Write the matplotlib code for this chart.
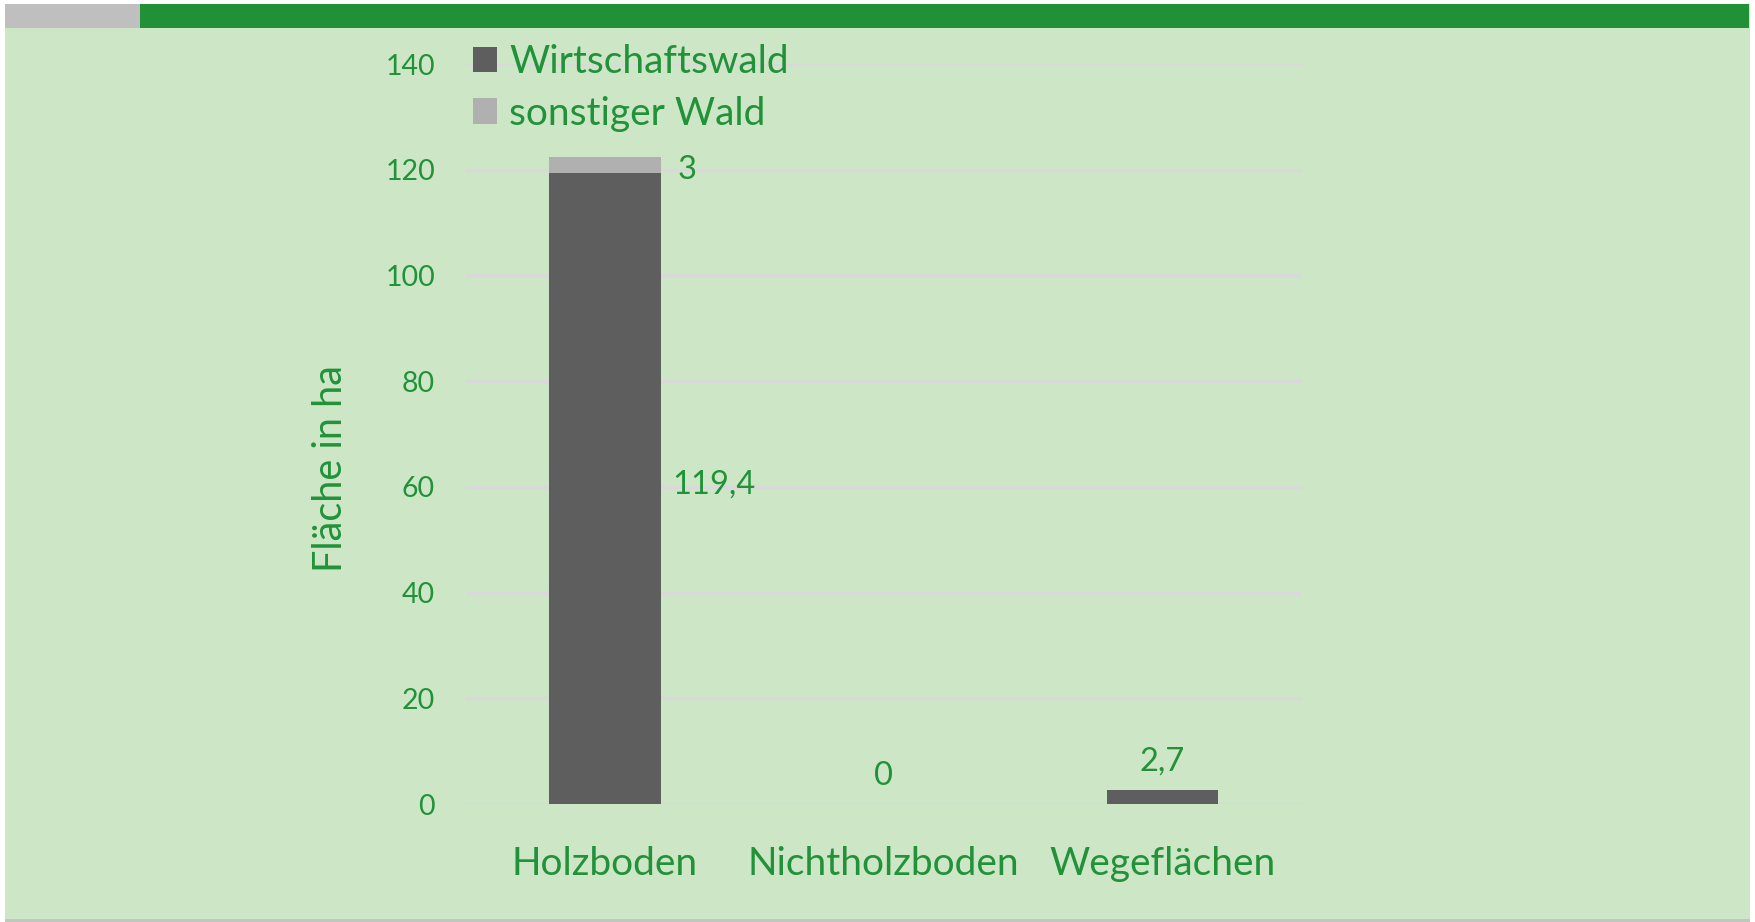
import matplotlib
matplotlib.use("Agg")
import matplotlib.pyplot as plt
from matplotlib.patches import Rectangle, Patch

categories = ["Holzboden", "Nichtholzboden", "Wegeflächen"]
wirtschaftswald = [119.4, 0.0, 2.7]
sonstiger_wald = [3.0, 0.0, 0.0]
series_names = ["Wirtschaftswald", "sonstiger Wald"]
yticks = [0, 20, 40, 60, 80, 100, 120, 140]
ylabel = "Fläche in ha"

GREEN = "#21923a"
BG = "#cde7c6"
DARK = "#5e5e5e"
LIGHT = "#b0b0b0"

plt.rcParams['font.family'] = ['Lato', 'DejaVu Sans']

fig = plt.figure(figsize=(17.55, 9.22), dpi=100)
fig.patch.set_facecolor("white")

# background panel
fig.patches.append(Rectangle((5/1755, 2/922), (1750-5)/1755, (918-2)/922,
                             transform=fig.transFigure, facecolor=BG,
                             edgecolor="none", zorder=-10))
# bottom border line
fig.patches.append(Rectangle((5/1755, 0), (1750-5)/1755, 3/922,
                             transform=fig.transFigure, facecolor="#c4c4c4",
                             edgecolor="none", zorder=-10))
# top bar: gray part and green part
fig.patches.append(Rectangle((5/1755, (922-28)/922), (140-5)/1755, 24/922,
                             transform=fig.transFigure, facecolor="#bfbfbf",
                             edgecolor="none", zorder=-9))
fig.patches.append(Rectangle((140/1755, (922-28)/922), (1749-140)/1755, 24/922,
                             transform=fig.transFigure, facecolor="#219138",
                             edgecolor="none", zorder=-9))

ax = fig.add_axes([465.6/1755, 118/922, (1302-465.6)/1755, 740/922])
ax.set_zorder(2)
ax.set_facecolor("none")

x = list(range(len(categories)))
ax.bar(x, wirtschaftswald, width=0.4, color=DARK, edgecolor="none",
       zorder=3, label=series_names[0])
ax.bar(x, sonstiger_wald, width=0.4, bottom=wirtschaftswald, color=LIGHT,
       edgecolor="none", zorder=3, label=series_names[1])

ax.set_xlim(-0.5, 2.5)
ax.set_ylim(0, 140)
ax.set_yticks(yticks)
ax.set_yticklabels([str(v) for v in yticks])
ax.yaxis.grid(True, color="#d9d9d9", linewidth=2.5, zorder=0)
ax.set_axisbelow(True)
for s in ax.spines.values():
    s.set_visible(False)
ax.tick_params(axis="both", length=0, colors=GREEN)
ax.tick_params(axis="y", labelsize=20.5, pad=22)
ax.set_xticks(x)
ax.set_xticklabels(categories, fontsize=28)
ax.tick_params(axis="x", pad=30)
ax.set_ylabel(ylabel, color=GREEN, fontsize=28.5)
ax.yaxis.set_label_coords(-0.14, 0.453)

def fmt(v):
    s = ("%.1f" % v).replace(".", ",")
    if s.endswith(",0"):
        s = s[:-2]
    return s

# data labels
ax.annotate(fmt(wirtschaftswald[0]), (0.2, wirtschaftswald[0] / 2),
            xytext=(12, 4), textcoords="offset pixels", ha="left", va="center",
            color=GREEN, fontsize=23.5)
ax.annotate(fmt(sonstiger_wald[0]), (0.2, wirtschaftswald[0] + sonstiger_wald[0] / 2),
            xytext=(17, -5), textcoords="offset pixels", ha="left", va="center",
            color=GREEN, fontsize=23.5)
for i in (1, 2):
    ax.annotate(fmt(wirtschaftswald[i]), (i, wirtschaftswald[i]),
                xytext=(0, 13), textcoords="offset pixels", ha="center",
                va="bottom", color=GREEN, fontsize=23.5)

handles = [Patch(facecolor=DARK, edgecolor="none"),
           Patch(facecolor=LIGHT, edgecolor="none")]
leg = fig.legend(handles, series_names, loc="upper left",
                 bbox_to_anchor=(446/1755, 1 - 17/922), frameon=False,
                 fontsize=28, labelcolor=GREEN, handlelength=0.62,
                 handleheight=0.62, handletextpad=0.3, labelspacing=0.4,
                 borderpad=0.2)
leg.set_zorder(5)

fig.savefig("out.png", dpi=100, facecolor=fig.get_facecolor())
